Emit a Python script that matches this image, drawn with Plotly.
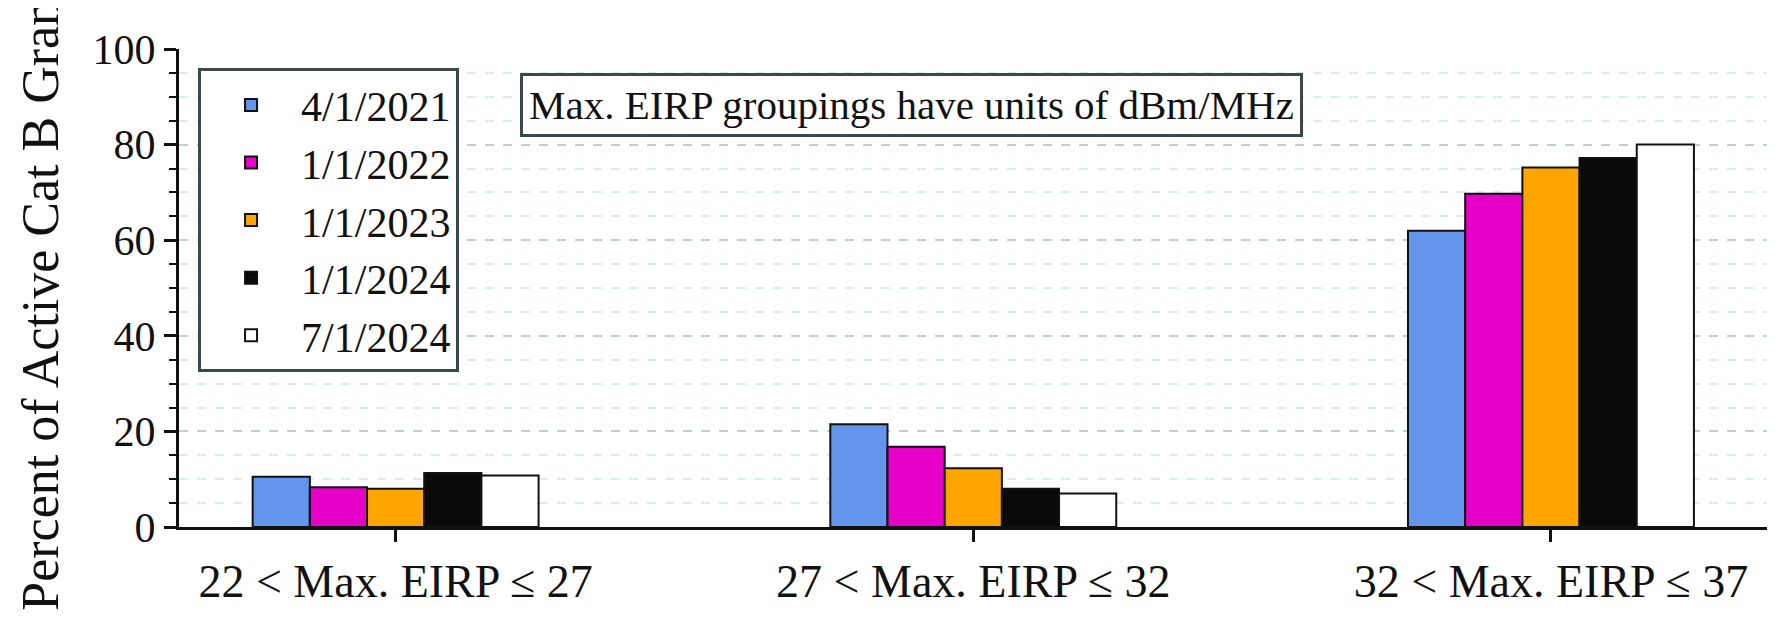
import plotly.graph_objects as go

categories = ['22 < Max. EIRP \u2264 27', '27 < Max. EIRP \u2264 32', '32 < Max. EIRP \u2264 37']
dates = ['4/1/2021', '1/1/2022', '1/1/2023', '1/1/2024', '7/1/2024']
v_2021_04 = [10.5, 21.5, 62.0]
v_2022_01 = [8.3, 16.8, 69.7]
v_2023_01 = [8.0, 12.3, 75.2]
v_2024_01 = [11.3, 8.0, 77.2]
v_2024_07 = [10.8, 7.0, 80.0]
series = [v_2021_04, v_2022_01, v_2023_01, v_2024_01, v_2024_07]
colors = ['#6495ED', '#E600C8', '#FFA500', '#0A0A0A', '#FFFFFF']

FONT = 'Liberation Serif'

fig = go.Figure()
for name, vals, col in zip(dates, series, colors):
    fig.add_trace(go.Bar(x=categories, y=vals, name=name, marker_color=col,
                         marker_line=dict(color='#111', width=2)))

fig.update_layout(
    width=1792, height=629,
    margin=dict(l=171, r=33, t=41, b=110),
    paper_bgcolor='white', plot_bgcolor='white',
    barmode='group', bargap=0.505, bargroupgap=0,
    font=dict(family=FONT, size=42, color='#111'),
    legend=dict(x=0.012, y=0.96, xanchor='left', yanchor='top',
                bordercolor='#3a4a4a', borderwidth=3, bgcolor='white',
                font=dict(size=42), itemwidth=90, tracegroupgap=2),
    annotations=[dict(text='Max. EIRP groupings have units of dBm/MHz',
                      xref='paper', yref='paper', x=0.215, y=0.95,
                      xanchor='left', yanchor='top', showarrow=False,
                      font=dict(size=41), bordercolor='#3a4a4a', borderwidth=3,
                      borderpad=6, bgcolor='white')],
)
fig.update_xaxes(range=[-0.375, 2.374], showline=True, linecolor='#111', linewidth=3,
                 ticks='outside', ticklen=12, tickwidth=3, tickcolor='#111',
                 showgrid=False, tickfont=dict(size=46))
fig.update_yaxes(range=[0, 100], dtick=20, showline=True, linecolor='#111', linewidth=3,
                 ticks='outside', ticklen=12, tickwidth=3, tickcolor='#111',
                 showgrid=True, gridcolor='#b8d4d4', griddash='dash', gridwidth=2,
                 minor=dict(dtick=5, ticks='outside', ticklen=7, tickwidth=2, tickcolor='#111',
                            showgrid=True, gridcolor='#dcecec', griddash='dash', gridwidth=1.5),
                 tickfont=dict(size=42), zeroline=False,
                 title=dict(text='Percent of Active Cat B Grants', font=dict(size=52), standoff=18))

fig.write_html('out.html')
